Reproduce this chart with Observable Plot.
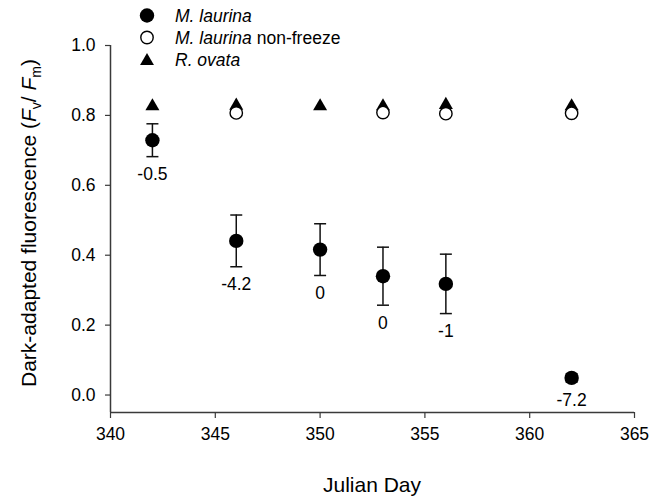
<!DOCTYPE html>
<html><head><meta charset="utf-8">
<script src="https://cdn.jsdelivr.net/npm/d3@7"></script>
<script src="https://cdn.jsdelivr.net/npm/@observablehq/plot@0.6"></script>
<style>body{margin:0;background:#fff} #chart{position:relative;width:666px;height:499px}</style>
</head><body><div id="chart"></div>
<script>
// Data
const days = [342, 346, 350, 353, 356, 362];
const laurinaMean = [0.729, 0.441, 0.416, 0.340, 0.318, 0.049];
const laurinaSE = [0.047, 0.074, 0.074, 0.083, 0.085, 0.012];
const minTemp = ["-0.5", "-4.2", "0", "0", "-1", "-7.2"];
const nonFreezeDays = [346, 353, 356, 362];
const nonFreezeMean = [0.807, 0.808, 0.805, 0.806];
const ovataDays = [342, 346, 350, 353, 356, 362];
const ovataMean = [0.826, 0.828, 0.826, 0.826, 0.830, 0.826];
const xTicks = [340, 345, 350, 355, 360, 365];
const yTicks = [0, 0.2, 0.4, 0.6, 0.8, 1.0];
const xDomain = [340, 365];
const yDomain = [-0.05, 1.0];
const legendLabels = [["M. laurina", ""], ["M. laurina", " non-freeze"], ["R. ovata", ""]];

const laurina = days.map((d, i) => ({day: d, mean: laurinaMean[i], se: laurinaSE[i], t: minTemp[i]}));
const nonFreeze = nonFreezeDays.map((d, i) => ({day: d, mean: nonFreezeMean[i]}));
const ovata = ovataDays.map((d, i) => ({day: d, mean: ovataMean[i]}));

const capSymbol = {draw(ctx) { ctx.moveTo(-6, 0); ctx.lineTo(6, 0); }};
const font = "'Liberation Sans', Arial, sans-serif";
const axisColor = "#3a3a3a";

const plot = Plot.plot({
  width: 666, height: 499,
  marginLeft: 110, marginRight: 32, marginTop: 45, marginBottom: 87,
  style: {fontFamily: font, background: "#fff", color: "#000"},
  x: {domain: xDomain},
  y: {domain: yDomain},
  marks: [
    Plot.ruleX([xDomain[0]], {y1: yDomain[0], y2: yDomain[1], stroke: axisColor, strokeWidth: 1.5}),
    Plot.ruleY([yDomain[0]], {x1: xDomain[0], x2: xDomain[1], stroke: axisColor, strokeWidth: 1.5}),
    Plot.axisY({ticks: yTicks, tickFormat: d => d.toFixed(1), tickSize: 5, tickPadding: 10, fontSize: 17.5, stroke: axisColor, strokeWidth: 1.2, fill: "#000", label: null}),
    Plot.axisX({ticks: xTicks, tickFormat: d => String(d), tickSize: 6, tickPadding: 9, fontSize: 17.5, stroke: axisColor, strokeWidth: 1.2, fill: "#000", label: null, anchor: "bottom"}),
    Plot.ruleX(laurina, {x: "day", y1: d => d.mean - d.se, y2: d => d.mean + d.se, stroke: "#111", strokeWidth: 1.5}),
    Plot.dot(laurina, {x: "day", y: d => d.mean - d.se, symbol: capSymbol, stroke: "#111", strokeWidth: 1.5, r: 4}),
    Plot.dot(laurina, {x: "day", y: d => d.mean + d.se, symbol: capSymbol, stroke: "#111", strokeWidth: 1.5, r: 4}),
    Plot.dot(ovata, {x: "day", y: "mean", symbol: "triangle", fill: "#000", r: 5.2}),
    Plot.dot(nonFreeze, {x: "day", y: "mean", fill: "#fff", stroke: "#000", strokeWidth: 1.4, r: 6.2}),
    Plot.dot(laurina, {x: "day", y: "mean", fill: "#000", r: 7.2}),
    Plot.text(laurina, {x: "day", y: d => d.mean - d.se, text: "t", dy: 18, fontSize: 17.5, fill: "#000"})
  ]
});
document.getElementById("chart").appendChild(plot);

const svg = d3.select(plot);
// X axis title
svg.append("text").attr("x", 372).attr("y", 492).attr("text-anchor", "middle")
  .attr("font-size", 21).attr("font-family", font).attr("fill", "#000").text("Julian Day");
// Y axis title
const yt = svg.append("text").attr("transform", "translate(36,223) rotate(-90)")
  .attr("text-anchor", "middle").attr("font-size", 21).attr("font-family", font).attr("fill", "#000");
yt.append("tspan").text("Dark-adapted fluorescence (");
yt.append("tspan").attr("font-style", "italic").text("F");
yt.append("tspan").attr("font-size", 14).attr("dy", 5).text("v");
yt.append("tspan").attr("dy", -5).text("/ ");
yt.append("tspan").attr("font-style", "italic").text("F");
yt.append("tspan").attr("font-size", 14).attr("dy", 5).text("m");
yt.append("tspan").attr("dy", -5).text(")");

// Legend
const lg = svg.append("g").attr("font-family", font).attr("font-size", 17.5).attr("fill", "#000").attr("text-anchor", "start");
const rows = [15.5, 37.5, 60];
lg.append("circle").attr("cx", 147).attr("cy", rows[0]).attr("r", 7.2).attr("fill", "#000");
lg.append("circle").attr("cx", 147).attr("cy", rows[1]).attr("r", 6.2).attr("fill", "#fff").attr("stroke", "#000").attr("stroke-width", 1.4);
lg.append("path").attr("transform", `translate(147,${rows[2] + 1})`).attr("d", d3.symbol(d3.symbolTriangle, 83)()).attr("fill", "#000");
legendLabels.forEach(([it, rest], i) => {
  const t = lg.append("text").attr("x", 175).attr("y", [22, 44, 66][i]).attr("text-anchor", "start");
  t.append("tspan").attr("font-style", "italic").text(it);
  if (rest) t.append("tspan").text(rest);
});
</script>
</body></html>
